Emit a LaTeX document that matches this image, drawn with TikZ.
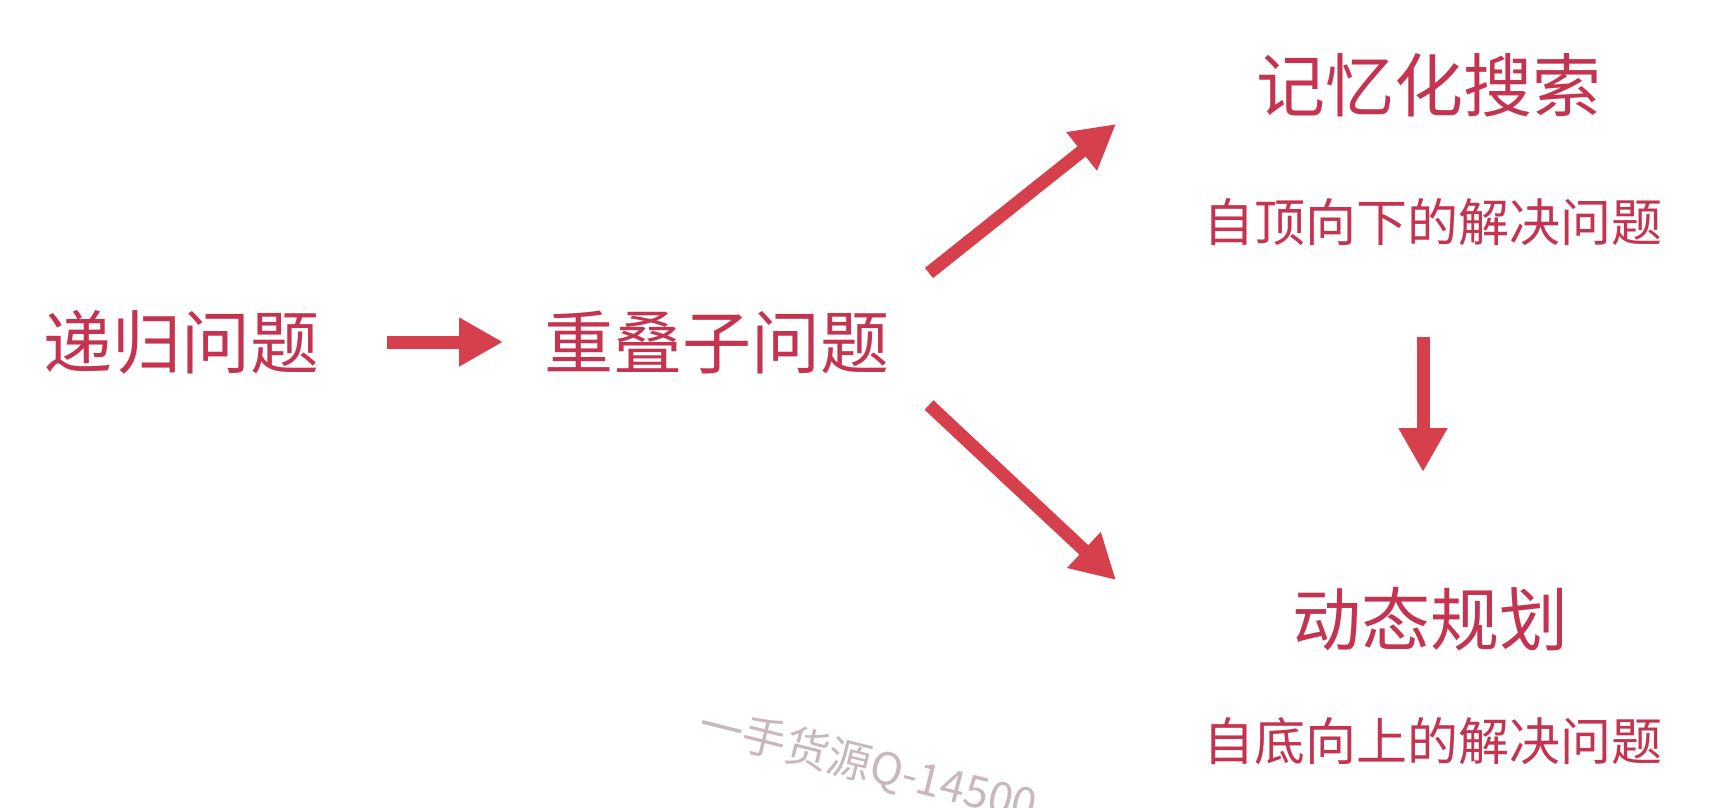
\documentclass[tikz,border=0pt]{standalone}
\usepackage{fontspec}
\newfontfamily\cjk{Noto Sans CJK SC}
\usetikzlibrary{arrows.meta}
\definecolor{txtred}{RGB}{196,52,80}
\definecolor{arrred}{RGB}{214,64,76}
\definecolor{wmgray}{RGB}{200,184,188}
\tikzset{
  big/.style={text=txtred, font=\cjk\fontsize{69}{80}\selectfont, inner sep=0pt, anchor=center},
  small/.style={text=txtred, font=\cjk\fontsize{51}{60}\selectfont, inner sep=0pt, anchor=center},
  redarrow/.style={draw=arrred, line width=13pt, -{Triangle[width=46pt,length=44pt]}},
  watermark/.style={text=wmgray, font=\cjk\fontsize{44}{50}\selectfont, inner sep=0pt}
}
\begin{document}
\begin{tikzpicture}[x=1pt,y=-1pt]
\useasboundingbox (0,0) rectangle (1732,808);
\fill[white] (0,0) rectangle (1732,808);
\begin{scope}
\clip (0,0) rectangle (1732,808);
\node[watermark, anchor=west, rotate=-14] (wm) at (700,724) {一手货源Q-14500};
\end{scope}
\node[big] (rec) at (181,342) {递归问题};
\node[big] (ovl) at (717,342) {重叠子问题};
\node[big] (memo) at (1429,85) {记忆化搜索};
\node[small] (memosub) at (1433,222) {自顶向下的解决问题};
\node[big] (dp) at (1430,619) {动态规划};
\node[small] (dpsub) at (1433,741) {自底向上的解决问题};
\coordinate (a1s) at (387,342);
\coordinate (a1e) at (503,342);
\coordinate (a2s) at (929,273);
\coordinate (a2e) at (1116,124);
\coordinate (a3s) at (929,405);
\coordinate (a3e) at (1116,580);
\coordinate (a4s) at (1423,337);
\coordinate (a4e) at (1423,472);
\draw[redarrow] (a1s) -- (a1e);
\draw[redarrow] (a2s) -- (a2e);
\draw[redarrow] (a3s) -- (a3e);
\draw[redarrow] (a4s) -- (a4e);
\end{tikzpicture}
\end{document}
